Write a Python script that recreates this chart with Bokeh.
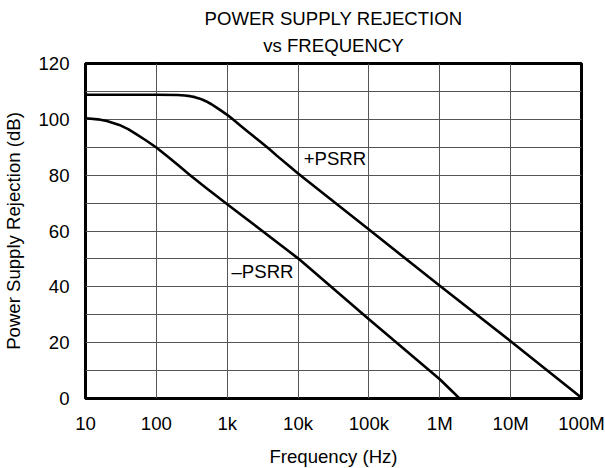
from bokeh.plotting import figure
from bokeh.models import FixedTicker, Title, Range1d, ColumnDataSource
from bokeh.embed import file_html
from bokeh.resources import INLINE
from bokeh.core.properties import value

# ---- data ----
freq_plus = [10, 100, 200, 250, 300, 350, 400, 450, 500, 600, 700, 800, 1000,
             1200, 1500, 2000, 2500, 3000, 4000, 5000, 7000, 10000,
             1e5, 1e6, 1e7, 1e8]
psrr_plus = [108.8, 108.8, 108.7, 108.55, 108.3, 107.95, 107.5, 107.0, 106.5,
             105.4, 104.3, 103.3, 101.6, 100.0, 98.0, 95.4, 93.4, 91.8, 89.2,
             87.0, 83.9, 80.6, 60.5, 40.4, 20.5, 0.3]

freq_minus = [10, 15, 20, 30, 40, 50, 70, 100, 150, 200, 300, 500, 700, 1000,
              10000, 1e5, 1e6, 1.9e6]
psrr_minus = [100.4, 100.0, 99.4, 98.0, 96.5, 95.0, 92.6, 89.9, 86.3, 83.7,
              80.0, 75.5, 72.6, 69.6, 50.2, 28.4, 6.9, 0.0]

x_ticks = [10, 100, 1e3, 1e4, 1e5, 1e6, 1e7, 1e8]
x_tick_labels = ["10", "100", "1k", "10k", "100k", "1M", "10M", "100M"]
y_ticks = [0, 20, 40, 60, 80, 100, 120]
y_minor = [10, 30, 50, 70, 90, 110]

title_lines = ["POWER SUPPLY REJECTION", "vs FREQUENCY"]
x_title = "Frequency (Hz)"
y_title = "Power Supply Rejection (dB)"

curve_labels = ["+PSRR", "\u2013PSRR"]
label_freq = [12000, 1150]
label_db = [85.8, 45.4]

FONT = "Liberation Sans"
FS = "18.6px"
GRID = "#555555"

p = figure(frame_width=496, frame_height=335, x_axis_type="log",
           x_range=Range1d(10, 1e8), y_range=Range1d(0, 120),
           output_backend="svg", toolbar_location=None,
           min_border_left=84, min_border_right=25,
           min_border_top=63, min_border_bottom=70)

p.background_fill_color = "white"
p.border_fill_color = "white"
p.outline_line_color = "black"
p.outline_line_width = 3

# titles: second line added first so it sits nearest the frame
p.add_layout(Title(text=title_lines[1], align="center", vertical_align="top",
                   offset=-3, text_font=FONT, text_font_size=FS,
                   text_font_style="normal", text_color="black",
                   standoff=9.5), "above")
p.add_layout(Title(text=title_lines[0], align="center", vertical_align="top",
                   offset=-3, text_font=FONT, text_font_size=FS,
                   text_font_style="normal", text_color="black",
                   standoff=0), "above")

# x axis
p.xaxis.ticker = FixedTicker(ticks=x_ticks, minor_ticks=[])
p.xaxis.major_label_overrides = {float(t): l for t, l in zip(x_ticks, x_tick_labels)}
p.xaxis.axis_label = x_title
p.xaxis.major_label_standoff = 14
p.xaxis.axis_label_standoff = 9

# y axis
p.yaxis.ticker = FixedTicker(ticks=y_ticks, minor_ticks=y_minor)
p.yaxis.axis_label = y_title
p.yaxis.major_label_standoff = 16
p.yaxis.axis_label_standoff = 11

for ax in (p.xaxis[0], p.yaxis[0]):
    ax.axis_line_color = None
    ax.major_tick_line_color = None
    ax.minor_tick_line_color = None
    ax.major_tick_out = 0
    ax.major_tick_in = 0
    ax.minor_tick_out = 0
    ax.minor_tick_in = 0
    ax.major_label_text_font = FONT
    ax.major_label_text_font_size = FS
    ax.major_label_text_color = "black"
    ax.axis_label_text_font = FONT
    ax.axis_label_text_font_size = FS
    ax.axis_label_text_font_style = "normal"
    ax.axis_label_text_color = "black"

# grid
p.xgrid.grid_line_color = GRID
p.xgrid.grid_line_width = 1
p.ygrid.grid_line_color = GRID
p.ygrid.grid_line_width = 1
p.ygrid.minor_grid_line_color = GRID
p.ygrid.minor_grid_line_width = 1

# curves
p.line(freq_plus, psrr_plus, line_color="black", line_width=2.6)
p.line(freq_minus, psrr_minus, line_color="black", line_width=2.6)

# curve labels
src = ColumnDataSource(dict(x=label_freq, y=label_db, t=curve_labels))
p.text(x="x", y="y", text="t", source=src, text_font=value(FONT),
       text_font_size=FS, text_color="black", text_align="left",
       text_baseline="middle")

open("out.html", "w").write(file_html(p, INLINE))
